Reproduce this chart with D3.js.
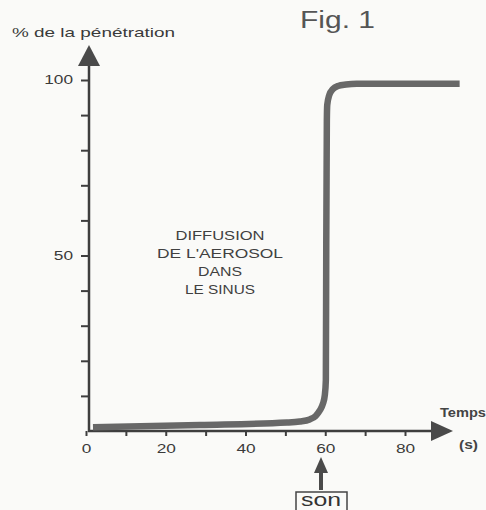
<!DOCTYPE html>
<html>
<head>
<meta charset="utf-8">
<script src="https://cdn.jsdelivr.net/npm/d3@7"></script>
<style>
  body { margin: 0; background: #fafaf8; }
  text { font-family: "Liberation Sans", Arial, sans-serif; fill: #3a3a3a; }
</style>
</head>
<body>
<div class="chart"></div>
<script>
// temps (s) / % de la pénétration
var temps = [1.75, 28.6, 50.4, 53.6, 56.1, 57.6, 58.6, 59.4, 59.9, 60.15, 60.25, 60.4, 60.5, 61.0, 61.9, 63.2, 65.2, 67.9, 93.7];
var penetration = [1.1, 1.7, 2.4, 2.7, 3.3, 4.3, 5.8, 7.7, 10.3, 14.5, 51.6, 88.6, 92.9, 95.7, 97.4, 98.3, 98.7, 98.9, 98.9];

var xTicks = [0, 10, 20, 30, 40, 50, 60, 70, 80];
var xLabels = [0, 20, 40, 60, 80];
var yTicks = [10, 20, 30, 40, 50, 60, 70, 80, 90, 100];
var yLabels = [50, 100];
var noteLines = [`DIFFUSION`, `DE L'AEROSOL`, `DANS`, `LE SINUS`];

var width = 486, height = 510;
var axisColor = `#3e3e3e`;

var svg = d3.select(`.chart`)
    .append(`svg`)
    .attr(`width`, width)
    .attr(`height`, height);

var xScale = d3.scaleLinear().domain([0, 80]).range([86, 405]);
var yScale = d3.scaleLinear().domain([0, 100]).range([431, 80]);

var x0 = xScale(0), y0 = yScale(0);

// the figure's lettering is wide, so stretch glyphs to the measured widths
function stretch(sel) {
    sel.attr(`lengthAdjust`, `spacingAndGlyphs`)
        .attr(`textLength`, function() {
            var t = this.textContent;
            return t ? t.length * 9.6 : null;
        });
}

// y axis
var yAxis = d3.axisLeft(yScale)
    .tickValues(yTicks)
    .tickSize(8)
    .tickPadding(8)
    .tickFormat(d => yLabels.includes(d) ? d : ``);
var gy = svg.append(`g`)
    .attr(`transform`, `translate(${x0 + 3},0)`)
    .call(yAxis);
gy.select(`.domain`).remove();
gy.selectAll(`line`).attr(`stroke`, axisColor).attr(`stroke-width`, 2);
gy.selectAll(`text`)
    .style(`font-size`, `12px`)
    .style(`fill`, `#3a3a3a`)
    .call(stretch);

// x axis
var xAxis = d3.axisBottom(xScale)
    .tickValues(xTicks)
    .tickSize(5)
    .tickPadding(8)
    .tickFormat(d => xLabels.includes(d) ? d : ``);
var gx = svg.append(`g`)
    .attr(`transform`, `translate(0,${y0})`)
    .call(xAxis);
gx.select(`.domain`).remove();
gx.selectAll(`line`).attr(`stroke`, axisColor).attr(`stroke-width`, 2);
gx.selectAll(`text`)
    .style(`font-size`, `12px`)
    .style(`fill`, `#3a3a3a`)
    .call(stretch);

// axis lines with arrow heads
svg.append(`path`)
    .attr(`d`, `M${x0 + 3},${y0 + 1}V60M${x0 + 2},${y0}H438`)
    .attr(`stroke`, axisColor)
    .attr(`stroke-width`, 2.5)
    .attr(`fill`, `none`);
svg.append(`path`)
    .attr(`d`, `M${x0 + 3},45L${x0 + 14},66L${x0 - 8},66Z`)
    .attr(`fill`, `#4a4a4a`);
svg.append(`path`)
    .attr(`d`, `M453,${y0}L431,${y0 - 10}L431,${y0 + 10}Z`)
    .attr(`fill`, `#4a4a4a`);

// curve
var line = d3.line()
    .x((d, i) => xScale(temps[i]))
    .y(d => yScale(d))
    .curve(d3.curveMonotoneX);

svg.append(`path`)
    .datum(penetration)
    .attr(`d`, line)
    .attr(`fill`, `none`)
    .attr(`stroke`, `#686868`)
    .attr(`stroke-width`, 6.5);

// texts
svg.append(`text`)
    .attr(`x`, 300).attr(`y`, 28)
    .attr(`textLength`, 75)
    .attr(`lengthAdjust`, `spacingAndGlyphs`)
    .style(`font-size`, `23px`)
    .style(`fill`, `#555`)
    .text(`Fig. 1`);

svg.append(`text`)
    .attr(`x`, 12).attr(`y`, 37)
    .attr(`textLength`, 163)
    .attr(`lengthAdjust`, `spacingAndGlyphs`)
    .style(`font-size`, `13px`)
    .text(`% de la pénétration`);

svg.append(`text`)
    .attr(`x`, 440).attr(`y`, 417)
    .attr(`textLength`, 46)
    .attr(`lengthAdjust`, `spacingAndGlyphs`)
    .style(`font-size`, `12.5px`)
    .style(`font-weight`, `bold`)
    .style(`fill`, `#444`)
    .text(`Temps`);

svg.append(`text`)
    .attr(`x`, 459).attr(`y`, 449)
    .attr(`textLength`, 19)
    .attr(`lengthAdjust`, `spacingAndGlyphs`)
    .style(`font-size`, `13px`)
    .style(`font-weight`, `bold`)
    .style(`fill`, `#444`)
    .text(`(s)`);

var noteWidths = [89, 126, 44, 70];
svg.append(`g`)
    .selectAll(`text`)
    .data(noteLines)
    .enter()
    .append(`text`)
    .attr(`x`, 220)
    .attr(`y`, (d, i) => 240 + i * 18)
    .attr(`text-anchor`, `middle`)
    .attr(`textLength`, (d, i) => noteWidths[i])
    .attr(`lengthAdjust`, `spacingAndGlyphs`)
    .style(`font-size`, `12.5px`)
    .style(`fill`, `#404040`)
    .text(d => d);

// "son" marker
var sx = 321;
svg.append(`path`)
    .attr(`d`, `M${sx},457L${sx + 7},473L${sx - 7},473Z`)
    .attr(`fill`, `#4a4a4a`);
svg.append(`rect`)
    .attr(`x`, sx - 2).attr(`y`, 471)
    .attr(`width`, 4).attr(`height`, 19)
    .attr(`fill`, `#4a4a4a`);
svg.append(`rect`)
    .attr(`x`, 296).attr(`y`, 492)
    .attr(`width`, 51).attr(`height`, 24)
    .attr(`fill`, `none`)
    .attr(`stroke`, `#444`)
    .attr(`stroke-width`, 1.5);
svg.append(`text`)
    .attr(`x`, sx).attr(`y`, 506)
    .attr(`text-anchor`, `middle`)
    .attr(`textLength`, 40)
    .attr(`lengthAdjust`, `spacingAndGlyphs`)
    .style(`font-size`, `18px`)
    .style(`fill`, `#333`)
    .text(`son`);
</script>
</body>
</html>
